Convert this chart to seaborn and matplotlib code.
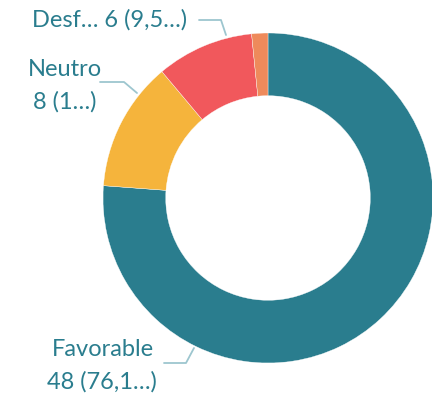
import matplotlib
matplotlib.use("Agg")
import matplotlib.pyplot as plt
import seaborn as sns

# Survey response counts
categories = ["Favorable", "Neutro", "Desfavorable", "Muy desfavorable"]
counts = [48, 8, 6, 1]
colors = ["#2A7D8E", "#F5B43C", "#F1585C", "#EE8A5B"]

sns.set_theme(style="white")
plt.rcParams["font.family"] = ["Lato", "DejaVu Sans"]

W, H = 432, 397
fig = plt.figure(figsize=(W / 100, H / 100), dpi=100)

cx, cy, r = 268, 198, 165
ax = fig.add_axes([(cx - r) / W, (H - cy - r) / H, 2 * r / W, 2 * r / H])

wedges, _ = ax.pie(
    counts,
    colors=colors,
    startangle=90,
    counterclock=False,
    radius=1.0,
    wedgeprops=dict(width=0.38, edgecolor="white", linewidth=0.25),
)
ax.set_xlim(-1, 1)
ax.set_ylim(-1, 1)
ax.set_aspect("equal")
ax.axis("off")

text_color = "#2A7D8E"
line_color = "#9DC6CF"


def px(x, y):
    """Figure pixel (from top-left) to figure fraction."""
    return x / W, 1 - y / H


def leader(points):
    xs, ys = zip(*[px(x, y) for x, y in points])
    fig.add_artist(plt.Line2D(xs, ys, color=line_color, lw=1.3,
                              transform=fig.transFigure))


fs = 17
# Favorable
fig.text(*px(103, 350), "Favorable", ha="center", va="center",
         color=text_color, fontsize=fs)
fig.text(*px(102, 382), "48 (76,1…)", ha="center", va="center",
         color=text_color, fontsize=fs)
leader([(164, 363), (186, 363), (194, 348)])

# Neutro
fig.text(*px(65, 70), "Neutro", ha="center", va="center",
         color=text_color, fontsize=fs)
fig.text(*px(65, 102), "8 (1…)", ha="center", va="center",
         color=text_color, fontsize=fs)
leader([(100, 82), (124, 82), (137, 93)])

# Desfavorable
fig.text(*px(110, 20), "Desf… 6 (9,5…)", ha="center", va="center",
         color=text_color, fontsize=fs)
leader([(199, 20), (221, 20), (226, 35)])

fig.savefig("out.png", dpi=100, facecolor="white")
